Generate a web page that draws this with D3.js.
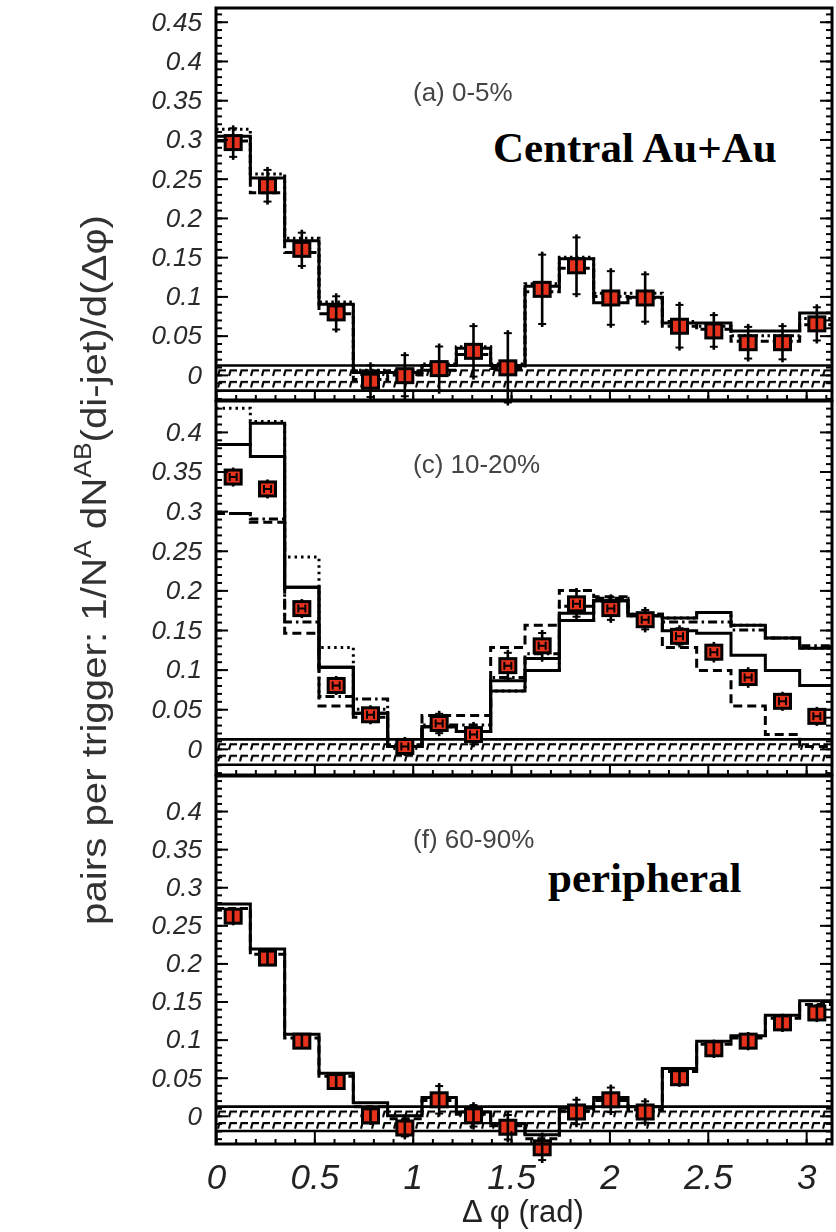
<!DOCTYPE html>
<html>
<head>
<meta charset="utf-8">
<script src="https://cdn.jsdelivr.net/npm/d3@7"></script>
<style>
  body { margin: 0; background: #fff; }
  svg { display: block; }
</style>
</head>
<body>
<svg id="chart" width="836" height="1232"></svg>
<script>
// ---- binning: 18 bins over 0..pi ----
const nBins = 18;
const xTickValues = [0, 0.5, 1, 1.5, 2, 2.5, 3];
const xTickLabels = ["0", "0.5", "1", "1.5", "2", "2.5", "3"];

// ---- (a) 0-5% central Au+Au ----
const centralPoints = [0.296, 0.241, 0.160, 0.079, -0.008, -0.001, 0.008, 0.030, 0.009, 0.109, 0.139, 0.098, 0.098, 0.062, 0.056, 0.041, 0.041, 0.065];
const centralErrors = [0.022, 0.024, 0.025, 0.025, 0.024, 0.030, 0.032, 0.036, 0.048, 0.048, 0.040, 0.038, 0.034, 0.031, 0.024, 0.024, 0.025, 0.025];
const centralSolid  = [0.304, 0.251, 0.171, 0.090, 0.003, 0.003, 0.012, 0.034, 0.012, 0.113, 0.148, 0.092, 0.099, 0.066, 0.066, 0.056, 0.056, 0.079];
const centralDashed = [0.298, 0.232, 0.156, 0.078, -0.006, 0.000, 0.006, 0.026, 0.008, 0.106, 0.136, 0.100, 0.098, 0.062, 0.058, 0.043, 0.043, 0.064];
const centralDotted = [0.313, 0.256, 0.174, 0.093, 0.006, 0.005, 0.014, 0.036, 0.014, 0.116, 0.150, 0.104, 0.104, 0.068, 0.062, 0.050, 0.050, 0.072];

// ---- (c) 10-20% ----
const midPoints  = [0.343, 0.328, 0.177, 0.080, 0.043, 0.003, 0.032, 0.018, 0.105, 0.130, 0.183, 0.177, 0.163, 0.142, 0.122, 0.090, 0.060, 0.041];
const midErrors  = [0.012, 0.012, 0.012, 0.012, 0.012, 0.012, 0.016, 0.016, 0.020, 0.020, 0.020, 0.018, 0.016, 0.014, 0.013, 0.013, 0.012, 0.012];
const midDotted  = [0.430, 0.413, 0.242, 0.128, 0.050, 0.003, 0.028, 0.022, 0.073, 0.099, 0.162, 0.187, 0.168, 0.165, 0.172, 0.156, 0.140, 0.127];
const midDashDot = [0.297, 0.290, 0.160, 0.066, 0.063, 0.003, 0.030, 0.030, 0.090, 0.120, 0.180, 0.190, 0.170, 0.160, 0.160, 0.150, 0.140, 0.130];
const midSolidA  = [0.384, 0.369, 0.204, 0.103, 0.045, 0.003, 0.028, 0.022, 0.086, 0.114, 0.171, 0.187, 0.168, 0.149, 0.146, 0.118, 0.099, 0.080];
const midSolidB  = [0.384, 0.411, 0.204, 0.103, 0.045, 0.003, 0.028, 0.022, 0.073, 0.099, 0.162, 0.187, 0.168, 0.165, 0.172, 0.156, 0.140, 0.127];
const midDashed  = [0.297, 0.286, 0.146, 0.054, 0.040, 0.003, 0.042, 0.042, 0.128, 0.156, 0.200, 0.192, 0.170, 0.128, 0.099, 0.054, 0.018, 0.003];

// ---- (f) 60-90% peripheral ----
const periPoints = [0.262, 0.207, 0.098, 0.045, 0.000, -0.016, 0.021, 0.000, -0.015, -0.042, 0.005, 0.021, 0.005, 0.050, 0.088, 0.098, 0.122, 0.135];
const periErrors = [0.012, 0.010, 0.010, 0.010, 0.012, 0.015, 0.022, 0.018, 0.020, 0.020, 0.020, 0.020, 0.018, 0.012, 0.012, 0.012, 0.012, 0.012];
const periSolid  = [0.278, 0.219, 0.107, 0.056, 0.017, 0.000, 0.024, 0.005, -0.010, -0.025, 0.010, 0.024, 0.012, 0.062, 0.098, 0.105, 0.132, 0.151];
const periDashed = [0.272, 0.212, 0.102, 0.052, 0.012, -0.004, 0.020, 0.002, -0.013, -0.030, 0.006, 0.020, 0.008, 0.058, 0.094, 0.102, 0.128, 0.146];

// ---- y axes ----
const yDomainCentral = [-0.032, 0.4675];
const yDomainMid     = [-0.033, 0.439];
const yDomainPeri    = [-0.037, 0.446];
const yTicksCentral  = [0, 0.05, 0.1, 0.15, 0.2, 0.25, 0.3, 0.35, 0.4, 0.45];
const yLabelsCentral = ["0", "0.05", "0.1", "0.15", "0.2", "0.25", "0.3", "0.35", "0.4", "0.45"];
const yTicksLower    = [0, 0.05, 0.1, 0.15, 0.2, 0.25, 0.3, 0.35, 0.4];
const yLabelsLower   = ["0", "0.05", "0.1", "0.15", "0.2", "0.25", "0.3", "0.35", "0.4"];
// systematic band around zero
const zeroBand = [-0.020, 0.012];

// ---------------------------------------------------------------
const svg = d3.select("#chart");
const defs = svg.append("defs");
const left = 216, right = 832;
const x = d3.scaleLinear().domain([0, Math.PI]).range([left, 834]);
const binW = Math.PI / nBins;
const edges = d3.range(nBins + 1).map(i => i * binW);

const RED = "#e6321c";
const tickFont = "'Liberation Sans', Arial, Helvetica, sans-serif";

defs.append("filter").attr("id", "soft")
  .append("feGaussianBlur").attr("stdDeviation", 0.7);
defs.append("filter").attr("id", "softer")
  .append("feGaussianBlur").attr("stdDeviation", 0.5);

const panels = [
  { box: [8, 400], domain: yDomainCentral, ticks: yTicksCentral, labels: yLabelsCentral,
    points: centralPoints, errors: centralErrors, glyph: "cross", tag: "(a) 0-5%", tagY: 101,
    hists: [ { v: centralDotted, dash: "2.5,3.5" }, { v: centralDashed, dash: "8,4" }, { v: centralSolid, dash: null } ] },
  { box: [401, 775], domain: yDomainMid, ticks: yTicksLower, labels: yLabelsLower,
    points: midPoints, errors: midErrors, glyph: "H", tag: "(c) 10-20%", tagY: 473,
    hists: [ { v: midDotted, dash: "2.5,4" }, { v: midDashDot, dash: "9,4,2.5,4" },
             { v: midDashed, dash: "9,5" }, { v: midSolidA, dash: null }, { v: midSolidB, dash: null } ] },
  { box: [776, 1144], domain: yDomainPeri, ticks: yTicksLower, labels: yLabelsLower,
    points: periPoints, errors: periErrors, glyph: "cross", tag: "(f) 60-90%", tagY: 848,
    hists: [ { v: periDashed, dash: "8,4" }, { v: periSolid, dash: null } ] }
];

const stepLine = d3.line().curve(d3.curveStepAfter);

panels.forEach((p, pi) => {
  const [top, bottom] = p.box;
  const y = d3.scaleLinear().domain(p.domain).range([bottom, top]);
  const g = svg.append("g");

  // clip region for the histograms
  const clipId = "clip" + pi;
  defs.append("clipPath").attr("id", clipId)
    .append("rect").attr("x", left).attr("y", top).attr("width", right - left).attr("height", bottom - top);

  // hatched systematic band around zero
  const bandTop = y(zeroBand[1]), bandBot = y(zeroBand[0]);
  const patId = "hatch" + pi;
  const pat = defs.append("pattern").attr("id", patId).attr("patternUnits", "userSpaceOnUse")
    .attr("x", left).attr("y", bandTop + 1).attr("width", 11).attr("height", 11.5);
  pat.append("path").attr("d", "M2,9.5 L3.5,4 H10").attr("fill", "none")
    .attr("stroke", "#000").attr("stroke-width", 2.1);
  g.append("rect").attr("x", left).attr("y", bandTop).attr("width", right - left)
    .attr("height", bandBot - bandTop).attr("fill", `url(#${patId})`);
  g.append("line").attr("x1", left).attr("x2", right).attr("y1", bandTop).attr("y2", bandTop)
    .attr("stroke", "#000").attr("stroke-width", 2.6);
  g.append("line").attr("x1", left).attr("x2", right).attr("y1", bandBot).attr("y2", bandBot)
    .attr("stroke", "#000").attr("stroke-width", 2.6);

  // step histograms
  const hg = g.append("g").attr("clip-path", `url(#${clipId})`);
  p.hists.forEach(h => {
    const pts = edges.map((e, i) => [x(e), y(h.v[Math.min(i, nBins - 1)])]);
    hg.append("path").attr("d", stepLine(pts)).attr("fill", "none")
      .attr("stroke", "#000").attr("stroke-width", 3)
      .attr("stroke-dasharray", h.dash);
  });

  // data points with statistical error bars
  const pg = g.append("g");
  p.points.forEach((v, i) => {
    const cx = x(edges[i] + binW / 2), cy = y(v);
    const e = p.errors[i];
    const y1 = y(v + e), y2 = y(v - e);
    pg.append("line").attr("x1", cx).attr("x2", cx).attr("y1", y1).attr("y2", y2)
      .attr("stroke", "#000").attr("stroke-width", 2.6);
    [y1 + 3, y2 - 3].forEach(yy => pg.append("line").attr("x1", cx - 4).attr("x2", cx + 4)
      .attr("y1", yy).attr("y2", yy).attr("stroke", "#000").attr("stroke-width", 2));
    pg.append("rect").attr("x", cx - 9.5).attr("y", cy - 8.5).attr("width", 19).attr("height", 17).attr("fill", "#000");
    pg.append("rect").attr("x", cx - 6.5).attr("y", cy - 5.5).attr("width", 13).attr("height", 11).attr("fill", RED);
    if (p.glyph === "H") {
      pg.append("path").attr("d", `M${cx - 3.5},${cy - 4}v8M${cx + 3.5},${cy - 4}v8M${cx - 3.5},${cy}h7`)
        .attr("fill", "none").attr("stroke", "#000").attr("stroke-width", 2);
    } else {
      pg.append("line").attr("x1", cx).attr("x2", cx).attr("y1", cy - 6).attr("y2", cy + 6)
        .attr("stroke", "#000").attr("stroke-width", 2.6);
    }
  });

  // frame
  g.append("rect").attr("x", left).attr("y", top).attr("width", right - left).attr("height", bottom - top)
    .attr("fill", "none").attr("stroke", "#000").attr("stroke-width", 3);

  // y ticks on both sides, pointing inward
  const minor = d3.range(Math.ceil(p.domain[0] * 100), Math.floor(p.domain[1] * 100) + 1).map(k => k / 100);
  const major = minor.filter(t => Math.abs(Math.round(t * 20) - t * 20) < 1e-6);
  const styleAxis = sel => { sel.select(".domain").remove(); sel.selectAll("line").attr("stroke", "#000").attr("stroke-width", 2); };
  g.append("g").attr("transform", `translate(${left},0)`)
    .call(d3.axisRight(y).tickValues(minor).tickSize(6).tickFormat("")).call(styleAxis);
  g.append("g").attr("transform", `translate(${left},0)`)
    .call(d3.axisRight(y).tickValues(major).tickSize(12).tickFormat("")).call(styleAxis);
  g.append("g").attr("transform", `translate(${right},0)`)
    .call(d3.axisLeft(y).tickValues(minor).tickSize(6).tickFormat("")).call(styleAxis);
  g.append("g").attr("transform", `translate(${right},0)`)
    .call(d3.axisLeft(y).tickValues(major).tickSize(12).tickFormat("")).call(styleAxis);

  // y tick labels
  const lab = g.append("g").attr("transform", `translate(${left},0)`)
    .call(d3.axisLeft(y).tickValues(p.ticks).tickSize(0).tickPadding(14)
      .tickFormat((d, i) => p.labels[i]));
  lab.select(".domain").remove();
  lab.selectAll("text").style("font-family", tickFont).style("font-size", "26px")
    .style("font-style", "italic").attr("fill", "#2a2a2a").attr("filter", "url(#softer)");

  // x ticks along the bottom strip
  const xMinor = d3.range(0, 32).map(k => k / 10);
  const styleX = sel => { sel.select(".domain").remove(); sel.selectAll("line").attr("stroke", "#000").attr("stroke-width", 2); };
  g.append("g").attr("transform", `translate(0,${bottom})`)
    .call(d3.axisTop(x).tickValues(xMinor).tickSize(5).tickFormat("")).call(styleX);
  g.append("g").attr("transform", `translate(0,${bottom})`)
    .call(d3.axisTop(x).tickValues(xTickValues).tickSize(bottom - bandBot).tickFormat("")).call(styleX);

  // centrality tag
  g.append("text").attr("x", 413).attr("y", p.tagY).text(p.tag)
    .style("font-family", tickFont).style("font-size", "26px").attr("fill", "#444")
    .attr("filter", "url(#soft)");

  if (pi === 2) {
    const xl = g.append("g").attr("transform", `translate(0,${bottom})`)
      .call(d3.axisBottom(x).tickValues(xTickValues).tickSize(0).tickPadding(20)
        .tickFormat((d, i) => xTickLabels[i]));
    xl.select(".domain").remove();
    xl.selectAll("text").style("font-family", tickFont).style("font-size", "35px")
      .style("font-style", "italic").attr("fill", "#222").attr("filter", "url(#softer)");
  }
});

// annotations
svg.append("text").attr("x", 493).attr("y", 162).text("Central Au+Au")
  .style("font-family", "'Liberation Serif', 'Times New Roman', serif")
  .style("font-weight", "bold").style("font-size", "43px").attr("fill", "#000");
svg.append("text").attr("x", 548).attr("y", 892).text("peripheral")
  .style("font-family", "'Liberation Serif', 'Times New Roman', serif")
  .style("font-weight", "bold").style("font-size", "43px").attr("fill", "#000");

// axis titles
svg.append("text").attr("x", x(Math.PI / 2) - 2).attr("y", 1222).attr("text-anchor", "middle")
  .style("font-family", tickFont).style("font-size", "31px").attr("fill", "#222")
  .attr("filter", "url(#softer)")
  .text("Δ φ (rad)");

// y title: condensed to span the three panels
const yTitle = svg.append("text")
  .attr("text-anchor", "middle")
  .style("font-family", tickFont).style("font-size", "35px").attr("fill", "#333")
  .attr("filter", "url(#softer)");
yTitle.append("tspan").text("pairs per trigger: 1/N");
yTitle.append("tspan").attr("dy", -15).style("font-size", "23px").text("A");
yTitle.append("tspan").attr("dy", 15).text(" dN");
yTitle.append("tspan").attr("dy", -15).style("font-size", "23px").text("AB");
yTitle.append("tspan").attr("dy", 15).text("(di-jet)/d(Δφ)");
const natural = yTitle.node().getComputedTextLength();
const squeeze = 710 / natural;
yTitle.attr("transform", `translate(106,570) rotate(-90) scale(${squeeze},1)`);
</script>
</body>
</html>
